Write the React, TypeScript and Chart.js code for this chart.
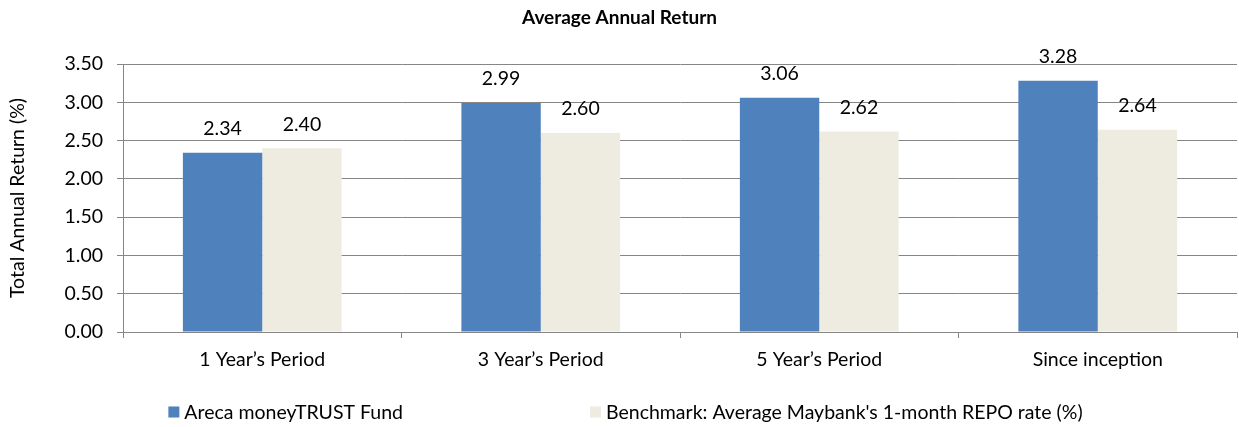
import React, { useEffect, useRef } from "react";
import { Chart, registerables } from "chart.js";

Chart.register(...registerables);

const categories = ["1 Year\u2019s Period", "3 Year\u2019s Period", "5 Year\u2019s Period", "Since inception"];
const fundValues = [2.34, 2.99, 3.06, 3.28];
const benchmarkValues = [2.4, 2.6, 2.62, 2.64];
const seriesNames = ["Areca moneyTRUST Fund", "Benchmark: Average Maybank's 1-month REPO rate (%)"];
const seriesColors = ["#4F81BD", "#EEECE1"];
const chartTitle = "Average Annual Return";
const yAxisTitle = "Total Annual Return (%)";

const FONT = "Lato, 'Open Sans', sans-serif";
const FS = 19.5;

const labelPlugin = {
  id: "valueLabels",
  afterDatasetsDraw(chart: any) {
    const ctx = chart.ctx;
    ctx.save();
    ctx.font = `${FS}px ${FONT}`;
    ctx.fillStyle = "#000";
    ctx.textAlign = "center";
    ctx.textBaseline = "middle";
    chart.data.datasets.forEach((ds: any, i: number) => {
      const meta = chart.getDatasetMeta(i);
      meta.data.forEach((bar: any, j: number) => {
        ctx.fillText(Number(ds.data[j]).toFixed(2), bar.x, bar.y - 24);
      });
    });
    ctx.restore();
  },
};

const decorPlugin = {
  id: "decor",
  afterDraw(chart: any) {
    const ctx = chart.ctx;
    const w = chart.width;
    ctx.save();
    // title
    ctx.font = `bold 19px ${FONT}`;
    ctx.fillStyle = "#000";
    ctx.textAlign = "center";
    ctx.textBaseline = "middle";
    ctx.fillText(chartTitle, w / 2, 18);
    // legend
    ctx.font = `${FS}px ${FONT}`;
    ctx.textAlign = "left";
    const box = 11;
    const gapText = 5;
    const gapItems = 187;
    const widths = chart.data.datasets.map((ds: any) => box + gapText + ctx.measureText(ds.label).width);
    const total = widths.reduce((a: number, b: number) => a + b, 0) + gapItems * (widths.length - 1);
    let x = w / 2 + 6 - total / 2;
    const y = 412;
    chart.data.datasets.forEach((ds: any, i: number) => {
      ctx.fillStyle = ds.backgroundColor;
      ctx.fillRect(x, y - box / 2, box, box);
      ctx.fillStyle = "#000";
      ctx.fillText(ds.label, x + box + gapText, y + 1);
      x += widths[i] + gapItems;
    });
    ctx.restore();
  },
};

export default function App() {
  const ref = useRef<HTMLCanvasElement | null>(null);
  useEffect(() => {
    if (!ref.current) return;
    const chart = new Chart(ref.current, {
      type: "bar",
      data: {
        labels: categories,
        datasets: [
          { label: seriesNames[0], data: fundValues, backgroundColor: seriesColors[0], categoryPercentage: 0.57, barPercentage: 1 },
          { label: seriesNames[1], data: benchmarkValues, backgroundColor: seriesColors[1], categoryPercentage: 0.57, barPercentage: 1 },
        ],
      },
      options: {
        responsive: false,
        animation: false,
        layout: { padding: { left: 0, right: 2, top: 64, bottom: 55 } },
        plugins: {
          legend: { display: false },
          title: { display: false },
          tooltip: { enabled: false },
        },
        scales: {
          x: {
            grid: { drawOnChartArea: false, offset: true, tickLength: 6, color: "#868686" },
            border: { color: "#868686", width: 1 },
            ticks: { color: "#000", font: { family: FONT, size: FS }, padding: 10 },
            afterFit: (s: any) => { s.height = 40; },
          },
          y: {
            min: 0,
            max: 3.5,
            ticks: {
              stepSize: 0.5,
              color: "#000",
              font: { family: FONT, size: FS },
              padding: 14,
              callback: (v: any) => Number(v).toFixed(2),
            },
            grid: { color: "#868686", tickLength: 6 },
            border: { color: "#868686", width: 1 },
            title: {
              display: true,
              text: yAxisTitle,
              color: "#000",
              font: { family: FONT, size: FS },
              padding: { top: 6, bottom: 0 },
            },
            afterFit: (s: any) => { s.width = 123; },
          },
        },
      },
      plugins: [labelPlugin, decorPlugin],
    });
    return () => chart.destroy();
  }, []);
  return (
    <div style={{ position: "fixed", left: 0, top: 0, width: 1239, height: 427, background: "#fff" }}>
      <canvas ref={ref} width={1239} height={427} style={{ width: 1239, height: 427 }} />
    </div>
  );
}
